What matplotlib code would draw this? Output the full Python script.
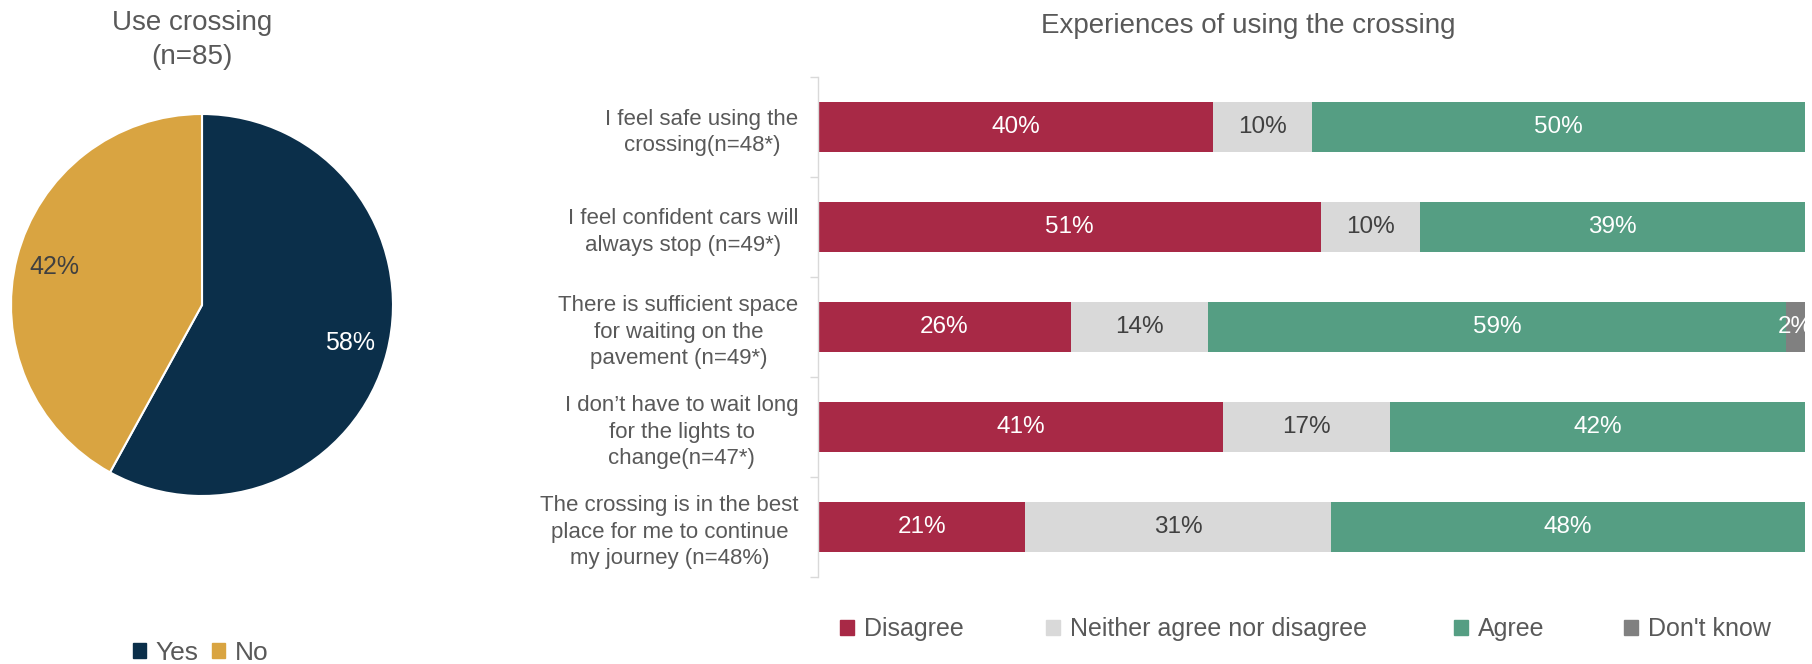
import matplotlib
matplotlib.use("Agg")
import matplotlib.pyplot as plt
from matplotlib.patches import Patch
import numpy as np

plt.rcParams['font.family'] = ['Liberation Sans', 'DejaVu Sans']

# pie data
pie_title = "Use crossing\n(n=85)"
pie_labels = ["Yes", "No"]
pie_values = [58, 42]
pie_colors = ["#0B2F4A", "#D9A441"]

# bar data
bar_title = "Experiences of using the crossing"
statements = [
    "I feel safe using the\ncrossing(n=48*)",
    "I feel confident cars will\nalways stop (n=49*)",
    "There is sufficient space\nfor waiting on the\npavement (n=49*)",
    "I don\u2019t have to wait long\nfor the lights to\nchange(n=47*)",
    "The crossing is in the best\nplace for me to continue\nmy journey (n=48%)",
]
disagree = [40, 51, 25.6, 41, 21]
neither = [10, 10, 13.9, 17, 31]
agree = [50, 39, 58.6, 42, 48]
dont_know = [0, 0, 1.9, 0, 0]
series_names = ["Disagree", "Neither agree nor disagree", "Agree", "Don't know"]
series_colors = ["#A82946", "#D9D9D9", "#559E83", "#808080"]
label_colors = ["white", "#404040", "white", "white"]

text_gray = "#595959"
W, H = 1812, 664

fig = plt.figure(figsize=(18.12, 6.64), dpi=100)

# ---- pie ----
ax_pie = fig.add_axes([11 / W, 168 / H, 382 / W, 382 / H])
wedges, texts, autotexts = ax_pie.pie(
    pie_values, colors=pie_colors, startangle=90, counterclock=False,
    autopct='%1.0f%%', pctdistance=0.8,
    wedgeprops=dict(edgecolor='white', linewidth=1.5))
autotexts[0].set_color('white')
autotexts[1].set_color('#404040')
for t in autotexts:
    t.set_fontsize(18)
ax_pie.set_xlim(-1, 1)
ax_pie.set_ylim(-1, 1)
ax_pie.set_aspect('equal')
fig.text(192 / W, 1 - 40 / H, pie_title, ha='center', va='center',
         fontsize=20, color=text_gray, linespacing=1.4)

pie_leg_x = [133, 212]
for lab, col, lx in zip(pie_labels, pie_colors, pie_leg_x):
    fig.legend([Patch(color=col)], [lab], loc='center left',
               bbox_to_anchor=(lx / W, 1 - 653 / H), frameon=False,
               fontsize=19, labelcolor=text_gray, borderpad=0, borderaxespad=0,
               handlelength=0.5, handleheight=0.5, handletextpad=0.35)

# ---- stacked bars ----
ax = fig.add_axes([818 / W, 87 / H, 987 / W, 500 / H])
y = np.arange(len(statements))
left = np.zeros(len(statements))
all_series = [disagree, neither, agree, dont_know]
for vals, name, col, lc in zip(all_series, series_names, series_colors, label_colors):
    vals = np.array(vals, dtype=float)
    ax.barh(y, vals, left=left, height=0.5, color=col, label=name)
    for i, v in enumerate(vals):
        if v > 0:
            ax.text(left[i] + v / 2, y[i], f"{v:.0f}%", ha='center', va='center',
                    fontsize=17.5, color=lc, clip_on=True)
    left += vals

ax.set_xlim(0, 100)
ax.set_ylim(len(statements) - 0.5, -0.5)
ax.set_yticks(y)
ax.set_yticklabels(statements, fontsize=16, color=text_gray,
                   multialignment='center', linespacing=1.32)
ax.tick_params(axis='y', which='major', length=0, pad=14)
ax.set_yticks(np.arange(-0.5, len(statements)), minor=True)
ax.tick_params(axis='y', which='minor', length=6, color='#D9D9D9', width=1)
ax.set_xticks([])
for s in ['top', 'right', 'bottom']:
    ax.spines[s].set_visible(False)
ax.spines['left'].set_color('#D9D9D9')
ax.spines['left'].set_linewidth(1)

fig.text(1248 / W, 1 - 26 / H, bar_title, ha='center', va='center',
         fontsize=20, color=text_gray)

bar_leg_x = [840, 1046, 1454, 1624]
for lab, col, lx in zip(series_names, series_colors, bar_leg_x):
    fig.legend([Patch(color=col)], [lab], loc='center left',
               bbox_to_anchor=(lx / W, 1 - 629 / H), frameon=False,
               fontsize=18, labelcolor=text_gray, borderpad=0, borderaxespad=0,
               handlelength=0.55, handleheight=0.55, handletextpad=0.4)

fig.savefig("out.png", dpi=100)
